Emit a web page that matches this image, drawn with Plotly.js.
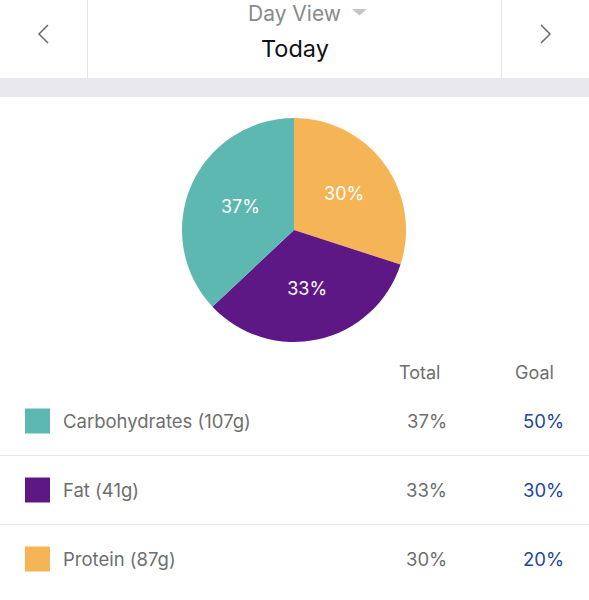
<!DOCTYPE html>
<html><head><meta charset="utf-8">
<script src="https://cdn.plot.ly/plotly-3.0.1.min.js"></script>
<style>html,body{margin:0;padding:0;background:#fff;}#chart{width:589px;height:600px;}</style>
</head><body><div id="chart"></div>
<script>
const categories = ["Carbohydrates", "Fat", "Protein"];
const grams = [107, 41, 87];
const totalPct = [37, 33, 30];
const goalPct = [50, 30, 20];
const colors = ["#5cb8b1", "#5e1886", "#f5b556"];
const viewTitle = "Day View";
const dayLabel = "Today";
const colHeaders = ["Total", "Goal"];

const FONT = "Inter, 'Noto Sans', sans-serif";
const rowY = [421, 490, 559];

const shapes = [
  {type:'rect', x0:0, x1:589, y0:78, y1:97, fillcolor:'#e9e8ee', line:{width:0}, layer:'below'},
  {type:'line', x0:87.5, x1:87.5, y0:0, y1:78, line:{color:'#e4e4e4', width:1}},
  {type:'line', x0:501.5, x1:501.5, y0:0, y1:78, line:{color:'#e4e4e4', width:1}},
  {type:'path', path:'M 48 25 L 39 34 L 48 43', line:{color:'#6a6a6a', width:1.5}},
  {type:'path', path:'M 541 25 L 550 34 L 541 43', line:{color:'#6a6a6a', width:1.5}},
  {type:'path', path:'M 352 9 L 367 9 L 359.5 15.5 Z', fillcolor:'#c6c6c6', line:{width:0}},
  {type:'line', x0:0, x1:589, y0:455.5, y1:455.5, line:{color:'#e6e6e6', width:1}},
  {type:'line', x0:0, x1:589, y0:524.5, y1:524.5, line:{color:'#e6e6e6', width:1}}
];
const annotations = [
  {x:294, y:13, text:viewTitle, font:{family:FONT, size:21, color:'#8a8a8a'}},
  {x:295, y:48, text:dayLabel, font:{family:FONT, size:23.5, color:'#111'}},
  {x:419, y:372, text:colHeaders[0], font:{family:FONT, size:18, color:'#6e6e6e'}},
  {x:534, y:372, text:colHeaders[1], font:{family:FONT, size:18, color:'#6e6e6e'}}
];
categories.forEach((c, i) => {
  const y = rowY[i];
  shapes.push({type:'rect', x0:25, x1:50, y0:y-12.5, y1:y+12.5, fillcolor:colors[i], line:{width:0}});
  annotations.push({x:61, y:y, xanchor:'left', text:c + ' (' + grams[i] + 'g)', font:{family:FONT, size:18.5, color:'#6e6e6e'}});
  annotations.push({x:449, y:y, xanchor:'right', text:totalPct[i] + '%', font:{family:FONT, size:18.5, color:'#6e6e6e'}});
  annotations.push({x:566, y:y, xanchor:'right', text:goalPct[i] + '%', font:{family:FONT, size:18.5, color:'#24479a'}});
});
annotations.forEach(a => { a.xref='x'; a.yref='y'; a.showarrow=false; if(!a.xanchor) a.xanchor='center'; a.yanchor='middle'; });
shapes.forEach(s => { s.xref='x'; s.yref='y'; });

// pie drawn clockwise from 12 o'clock: Protein, Fat, Carbohydrates
const pieOrder = [2, 1, 0];
const trace = {
  type:'pie', labels:pieOrder.map(i => categories[i]), values:pieOrder.map(i => totalPct[i]),
  sort:false, direction:'clockwise', rotation:0,
  marker:{colors:pieOrder.map(i => colors[i]), line:{width:0}}, texttemplate:'%{value}%', textposition:'inside',
  insidetextfont:{family:FONT, size:18, color:'#ffffff'}, hoverinfo:'none', showlegend:false,
  domain:{x:[182/589, 406/589], y:[1-342/600, 1-118/600]}
};
const layout = {
  width:589, height:600, margin:{l:0,r:0,t:0,b:0}, paper_bgcolor:'#fff', plot_bgcolor:'#fff',
  xaxis:{range:[0,589], visible:false, fixedrange:true},
  yaxis:{range:[600,0], visible:false, fixedrange:true},
  shapes:shapes, annotations:annotations, showlegend:false
};
Plotly.newPlot('chart', [trace], layout, {displayModeBar:false, staticPlot:true});
</script></body></html>
